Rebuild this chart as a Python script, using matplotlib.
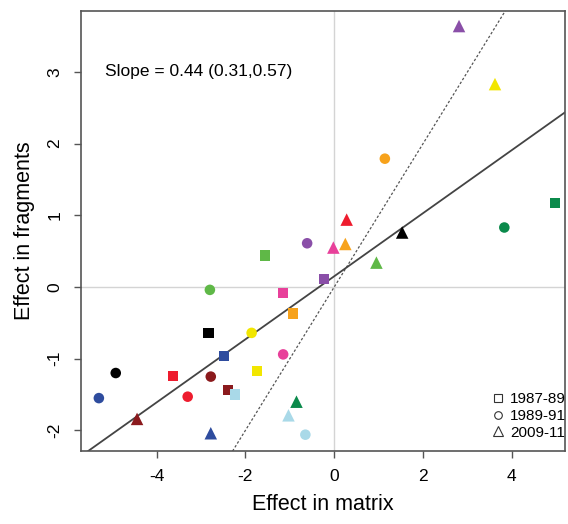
import matplotlib.pyplot as plt
import numpy as np

plt.rcParams['font.family'] = ['Liberation Sans', 'DejaVu Sans']
plt.rcParams['axes.unicode_minus'] = False

# one colour per group, same order in every period
colours = ['#5fb847', '#e8409a', '#f7a21b', '#8a4fa8', '#000000', '#2e4c9e',
           '#ee1c2e', '#8b1a1d', '#a9d9e8', '#f2e600', '#0b8a4b']

# 1987-89 (squares)
sq_x = [-1.55, -1.15, -0.92, -0.23, -2.83, -2.48, -3.63, -2.40, -2.24, -1.73, 4.98]
sq_y = [0.44, -0.08, -0.37, 0.11, -0.64, -0.96, -1.24, -1.44, -1.50, -1.17, 1.17]
# 1989-91 (circles)
ci_x = [-2.80, -1.15, 1.14, -0.61, -4.92, -5.30, -3.30, -2.78, -0.65, -1.86, 3.83]
ci_y = [-0.04, -0.94, 1.79, 0.61, -1.20, -1.55, -1.53, -1.25, -2.06, -0.64, 0.83]
# 2009-11 (triangles)
tr_x = [0.95, -0.02, 0.25, 2.81, 1.53, -2.78, 0.28, -4.44, -1.03, 3.62, -0.85]
tr_y = [0.34, 0.55, 0.60, 3.64, 0.76, -2.04, 0.94, -1.84, -1.79, 2.83, -1.60]

slope = 0.44
intercept = 0.15
slope_text = "Slope = 0.44 (0.31,0.57)"
periods = ['1987-89', '1989-91', '2009-11']

fig = plt.figure(figsize=(5.68, 5.24), dpi=100)
ax = fig.add_axes([0.142, 0.139, 0.853, 0.840])

ax.axhline(0, color='#d4d4d4', lw=1, zorder=0)
ax.axvline(0, color='#d4d4d4', lw=1, zorder=0)
ax.axline((0, 0), slope=1, color='#555555', lw=0.9, linestyle=(0, (2, 1.6)), zorder=1)
ax.axline((0, intercept), slope=slope, color='#444444', lw=1.3, zorder=1)

ax.scatter(sq_x, sq_y, marker='s', s=7.3**2, c=colours, linewidths=0, zorder=3)
ax.scatter(ci_x, ci_y, marker='o', s=7.6**2, c=colours, linewidths=0, zorder=3)
ax.scatter(tr_x, tr_y, marker='^', s=9.0**2, c=colours, linewidths=0, zorder=3)

ax.text(-5.16, 3.0, slope_text, fontsize=12.5, ha='left', va='center')

# legend with open symbols
handles = [
    plt.Line2D([], [], marker=m, linestyle='none', markerfacecolor='none',
               markeredgecolor='#333333', markeredgewidth=0.8, markersize=ms)
    for m, ms in [('s', 6), ('o', 5.5), ('^', 6.5)]
]
ax.legend(handles, periods, loc='lower right', bbox_to_anchor=(1.015, 0.012),
          frameon=False, fontsize=11, handletextpad=0.2, labelspacing=0.18,
          handlelength=1.2, borderaxespad=0)

ax.set_xlim(-5.71, 5.2)
ax.set_ylim(-2.29, 3.85)
ax.set_xticks([-4, -2, 0, 2, 4])
ax.set_yticks([-2, -1, 0, 1, 2, 3])
ax.set_xlabel("Effect in matrix", fontsize=15.5, labelpad=7)
ax.set_ylabel("Effect in fragments", fontsize=15.5, labelpad=9)

for sp in ax.spines.values():
    sp.set_color('#555555')
    sp.set_linewidth(1.2)
ax.tick_params(colors='#555555', labelcolor='black', labelsize=12.5, length=5, width=1, pad=8)
ax.tick_params(axis='y', labelrotation=90)
for lab in ax.get_yticklabels():
    lab.set_va('center')

fig.savefig('out.png', dpi=100)
